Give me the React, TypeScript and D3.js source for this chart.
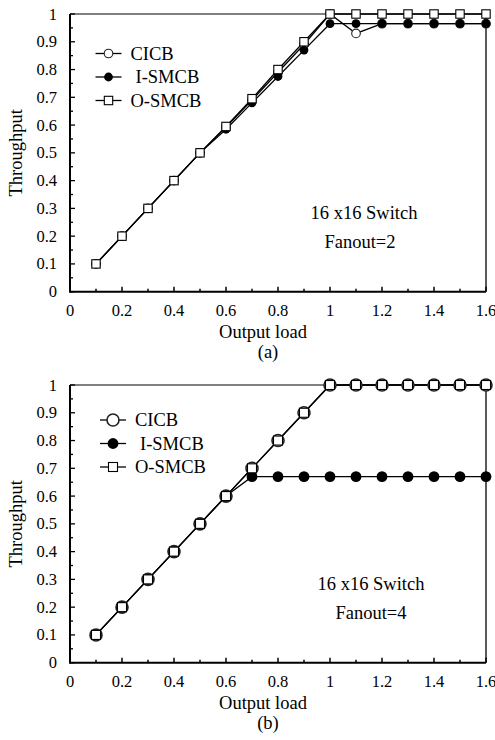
import React from 'react';
import * as d3 from 'd3';

// output load (x) shared by both panels
const loads = [0.1, 0.2, 0.3, 0.4, 0.5, 0.6, 0.7, 0.8, 0.9, 1.0, 1.1, 1.2, 1.3, 1.4, 1.5, 1.6];

// panel (a): fanout = 2
const cicbA = [0.1, 0.2, 0.3, 0.4, 0.5, 0.593, 0.69, 0.79, 0.89, 1.0, 0.93, 0.965, 0.965, 0.965, 0.965, 0.965];
const ismcbA = [0.1, 0.2, 0.3, 0.4, 0.5, 0.585, 0.68, 0.775, 0.87, 0.965, 0.965, 0.965, 0.965, 0.965, 0.965, 0.965];
const osmcbA = [0.1, 0.2, 0.3, 0.4, 0.5, 0.595, 0.695, 0.8, 0.9, 1.0, 1.0, 1.0, 1.0, 1.0, 1.0, 1.0];

// panel (b): fanout = 4
const cicbB = [0.1, 0.2, 0.3, 0.4, 0.5, 0.6, 0.7, 0.8, 0.9, 1.0, 1.0, 1.0, 1.0, 1.0, 1.0, 1.0];
const ismcbB = [0.1, 0.2, 0.3, 0.4, 0.5, 0.6, 0.67, 0.67, 0.67, 0.67, 0.67, 0.67, 0.67, 0.67, 0.67, 0.67];
const osmcbB = [0.1, 0.2, 0.3, 0.4, 0.5, 0.6, 0.7, 0.8, 0.9, 1.0, 1.0, 1.0, 1.0, 1.0, 1.0, 1.0];

const seriesNames = ['CICB', 'I-SMCB', 'O-SMCB'];
const xTickLabels = ['0', '0.2', '0.4', '0.6', '0.8', '1', '1.2', '1.4', '1.6'];
const yTickLabels = ['0', '0.1', '0.2', '0.3', '0.4', '0.5', '0.6', '0.7', '0.8', '0.9', '1'];

const FONT = '"Liberation Serif", "Times New Roman", serif';

type PanelProps = {
  top: number;
  data: number[][];
  fanout: string;
  caption: string;
  big: boolean;
  legendY: number;
  legendX: number;
  noteX: number;
};

const Marker = ({ kind, x, y, big }: { kind: number; x: number; y: number; big: boolean }) => {
  if (kind === 0) {
    const r = big ? 6 : 4.3;
    return <circle cx={x} cy={y} r={r} fill="#fff" stroke="#222" strokeWidth={big ? 1.6 : 1.1} />;
  }
  if (kind === 1) {
    const r = big ? 5.4 : 4.4;
    return <circle cx={x} cy={y} r={r} fill="#000" />;
  }
  const s = big ? 9 : 8.4;
  return <rect x={x - s / 2} y={y - s / 2} width={s} height={s} fill="#fff" stroke="#000" strokeWidth={1.1} />;
};

const Panel = ({ top, data, fanout, caption, big, legendY, legendX, noteX }: PanelProps) => {
  const x = d3.scaleLinear().domain([0, 1.6]).range([70, 486]);
  const y = d3.scaleLinear().domain([0, 1]).range([top + 277.7, top]);
  const y0 = y(0);

  const line = d3
    .line<number>()
    .x((_, i) => x(loads[i]))
    .y((d) => y(d));

  const xMajor = d3.range(0, 17, 2).map((d) => d / 10);
  const xMinor = d3.range(1, 16, 2).map((d) => d / 10);
  const yMajor = d3.range(0, 11).map((d) => d / 10);
  const yMinor = d3.range(1, 20, 2).map((d) => d / 20);

  return (
    <g fontFamily={FONT} fill="#000">
      {/* frame */}
      <line x1={70} x2={486} y1={y(1)} y2={y(1)} stroke="#808080" strokeWidth={2} />
      <line x1={486} x2={486} y1={y(1)} y2={y0} stroke="#000" strokeWidth={1.3} />
      <line x1={70} x2={486} y1={y0} y2={y0} stroke="#000" strokeWidth={2} />
      <line x1={70} x2={70} y1={y(1)} y2={y0 + 1} stroke="#000" strokeWidth={2} />

      {xMajor.map((d) => (
        <line key={'xM' + d} x1={x(d)} x2={x(d)} y1={y0} y2={y0 - 5} stroke="#000" strokeWidth={1.5} />
      ))}
      {xMinor.map((d) => (
        <line key={'xm' + d} x1={x(d)} x2={x(d)} y1={y0} y2={y0 - 3} stroke="#000" strokeWidth={1.5} />
      ))}
      {yMajor.map((d) => (
        <line key={'yM' + d} x1={70} x2={75} y1={y(d)} y2={y(d)} stroke="#000" strokeWidth={1.3} />
      ))}
      {yMinor.map((d) => (
        <line key={'ym' + d} x1={70} x2={73} y1={y(d)} y2={y(d)} stroke="#000" strokeWidth={1.3} />
      ))}

      {xMajor.map((d, i) => (
        <text key={'xl' + d} x={x(d)} y={y0 + 24} textAnchor="middle" fontSize={16.5}>
          {xTickLabels[i]}
        </text>
      ))}
      {yMajor.map((d, i) => (
        <text key={'yl' + d} x={57} y={y(d) + 5.5} textAnchor="end" fontSize={16.5}>
          {yTickLabels[i]}
        </text>
      ))}

      <text x={263} y={y0 + 46} textAnchor="middle" fontSize={18.5}>
        Output load
      </text>
      <text x={268} y={y0 + 66} textAnchor="middle" fontSize={18.5}>
        {caption}
      </text>
      <text
        transform={`translate(22,${(y(1) + y0) / 2}) rotate(-90)`}
        textAnchor="middle"
        fontSize={18.5}
      >
        Throughput
      </text>

      <text x={noteX} y={top + 205} textAnchor="middle" fontSize={18.5}>
        16 x16 Switch
      </text>
      <text x={noteX - 4 + (big ? 4 : 0)} y={top + 234} textAnchor="middle" fontSize={18.5}>
        Fanout={fanout}
      </text>

      {/* series */}
      {data.map((vals, k) => (
        <path key={'p' + k} d={line(vals) || ''} fill="none" stroke="#000" strokeWidth={1.3} />
      ))}
      {data.map((vals, k) =>
        vals.map((v, i) => <Marker key={'m' + k + '-' + i} kind={k} x={x(loads[i])} y={y(v)} big={big} />)
      )}

      {/* legend */}
      {seriesNames.map((name, k) => {
        const ly = top + legendY + k * 23.5;
        return (
          <g key={'lg' + name}>
            <line x1={legendX - 13} x2={legendX + 13} y1={ly} y2={ly} stroke="#000" strokeWidth={1.3} />
            <Marker kind={k} x={legendX} y={ly} big={big} />
            <text x={legendX + (k === 1 ? 27 : 22)} y={ly + 6} fontSize={18.5}>
              {name}
            </text>
          </g>
        );
      })}
    </g>
  );
};

const App = () => {
  return (
    <svg
      width={495}
      height={740}
      style={{ position: 'absolute', left: 0, top: 0, background: '#fff' }}
    >
      <rect x={0} y={0} width={495} height={740} fill="#fff" />
      <Panel
        top={14}
        data={[cicbA, ismcbA, osmcbA]}
        fanout="2"
        caption="(a)"
        big={false}
        legendY={39.5}
        legendX={108.5}
        noteX={364}
      />
      <Panel
        top={385}
        data={[cicbB, ismcbB, osmcbB]}
        fanout="4"
        caption="(b)"
        big={true}
        legendY={35}
        legendX={113}
        noteX={371}
      />
    </svg>
  );
};

export default App;
